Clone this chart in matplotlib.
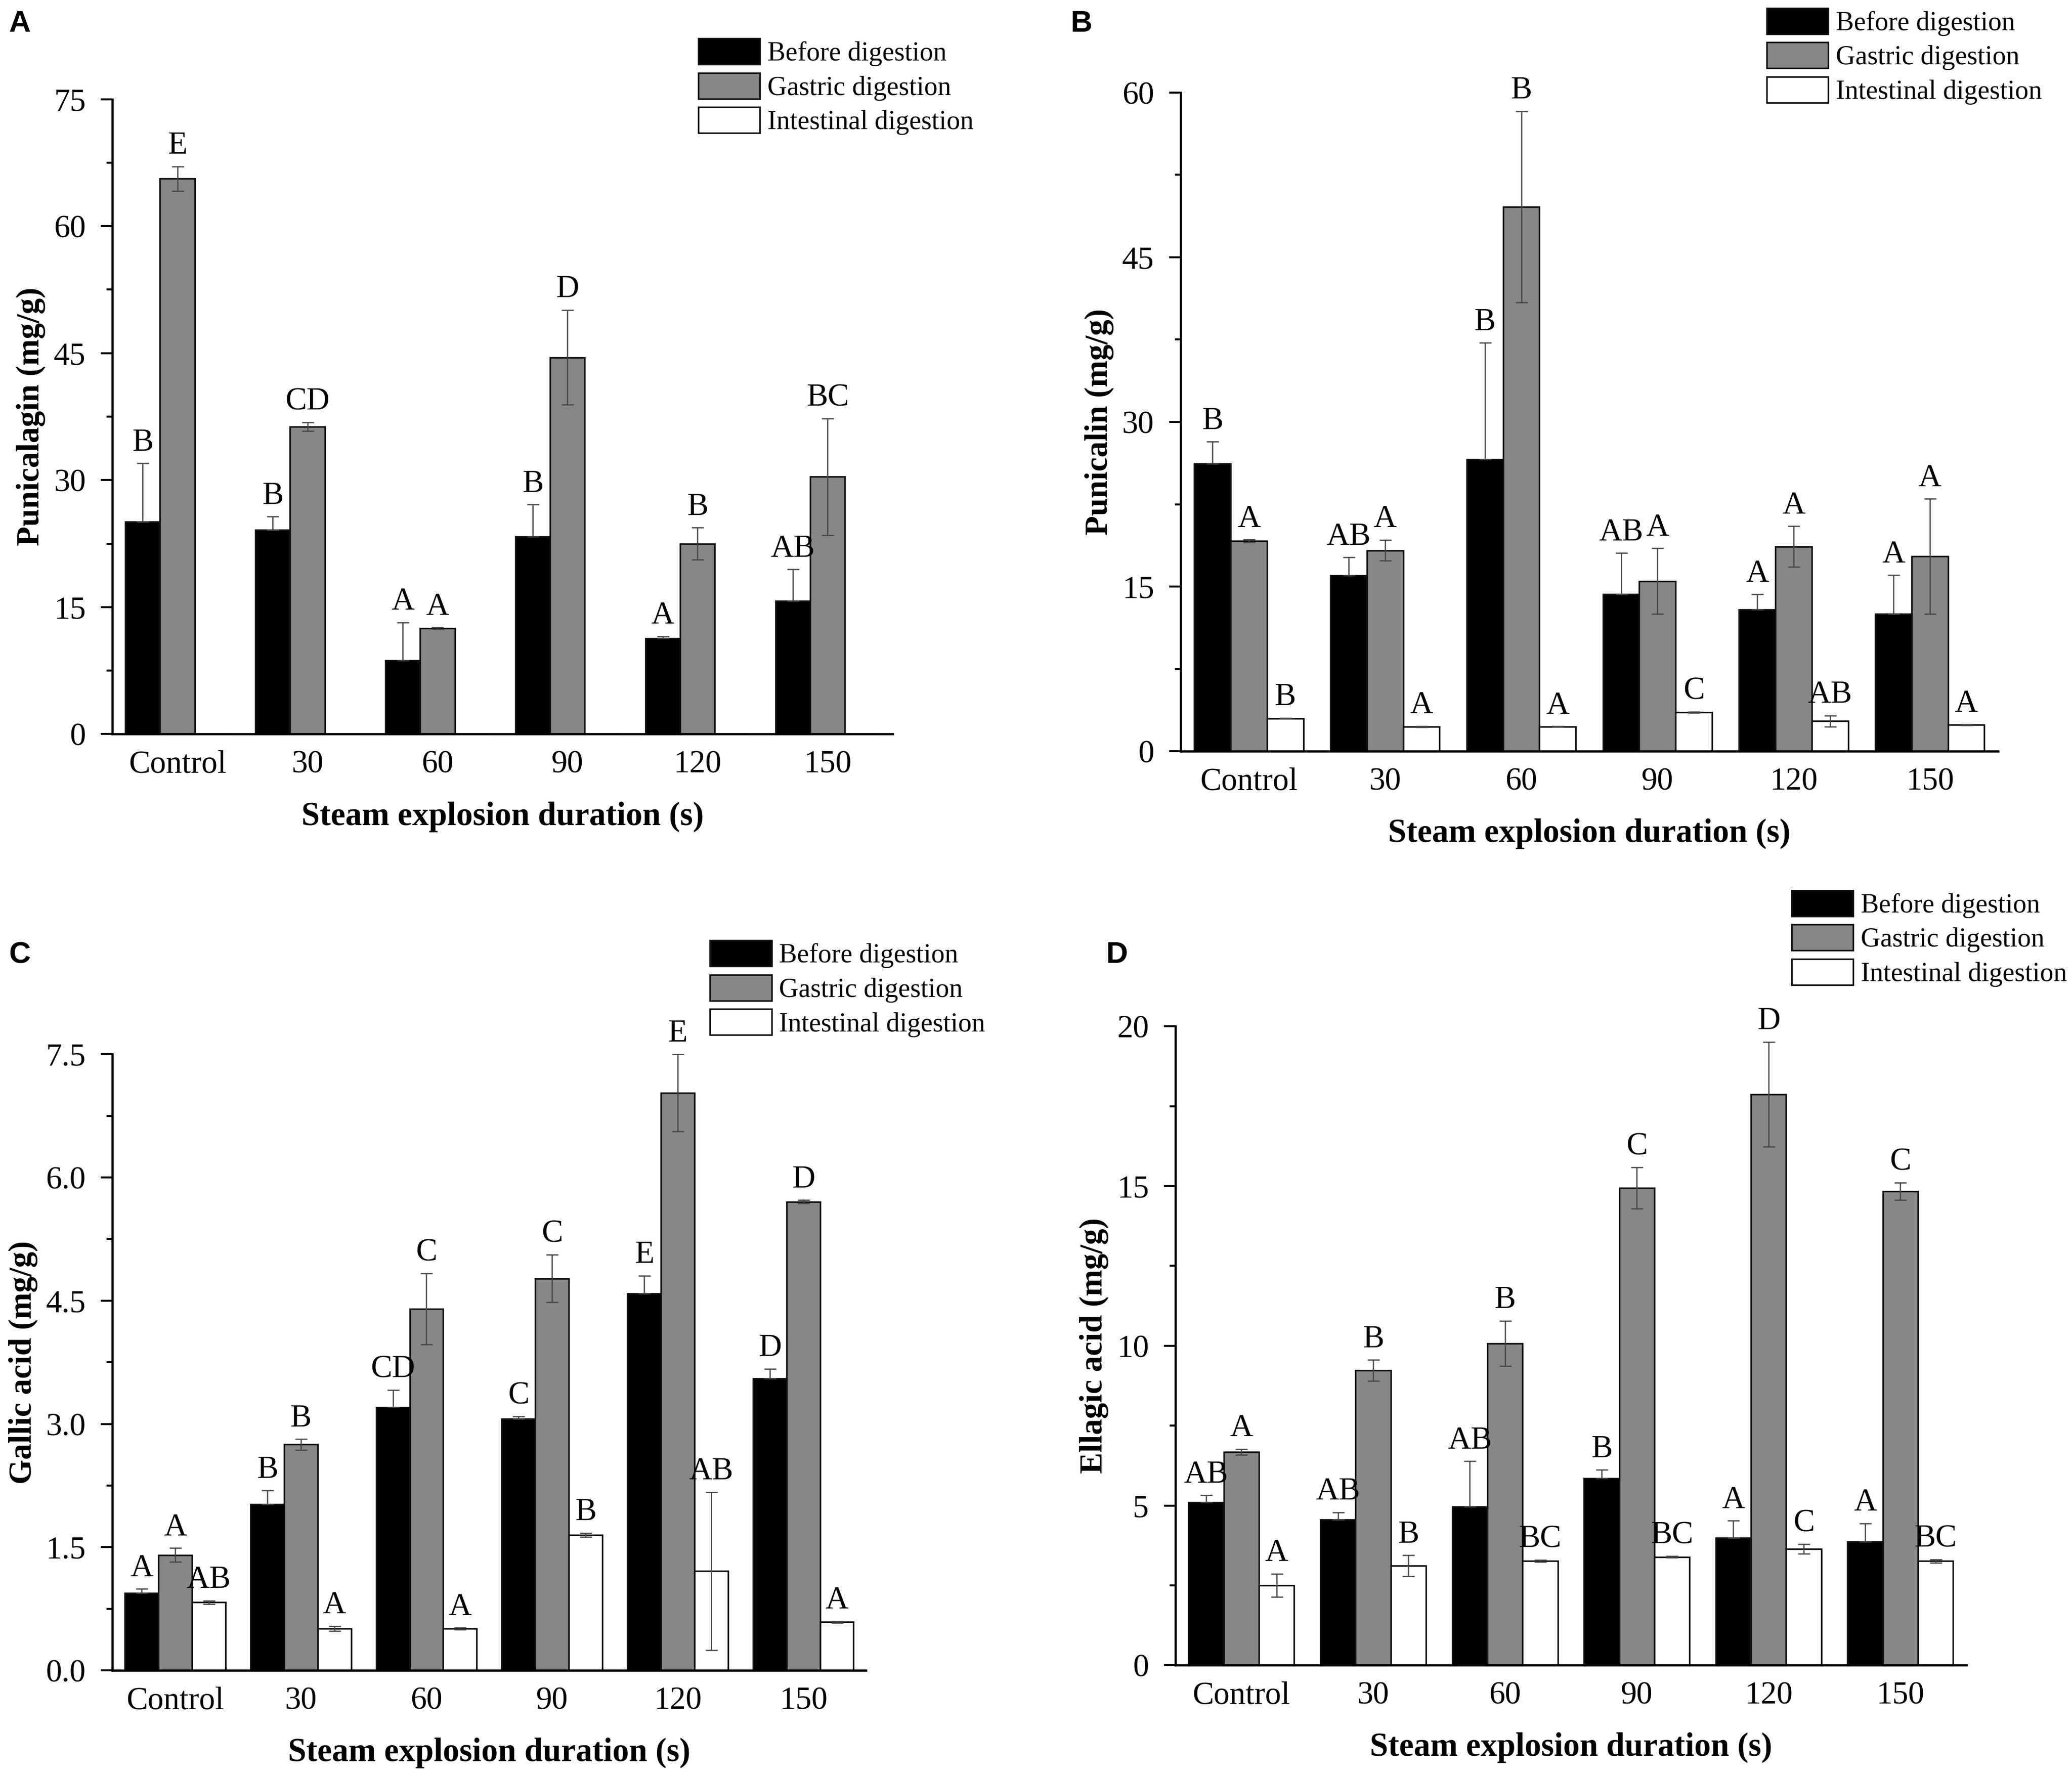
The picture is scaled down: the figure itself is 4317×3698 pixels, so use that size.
import numpy as np
import matplotlib
matplotlib.use("Agg")
import matplotlib.pyplot as plt
from matplotlib.ticker import MultipleLocator

plt.rcParams['font.family'] = ['Liberation Serif', 'DejaVu Serif']

categories = ["Control", "30", "60", "90", "120", "150"]
series_names = ["Before digestion", "Gastric digestion", "Intestinal digestion"]
xlabel = "Steam explosion duration (s)"

# Panel A: Punicalagin
a_before = [25.1, 24.1, 8.7, 23.3, 11.3, 15.75]
a_before_err = [6.9, 1.6, 4.5, 3.8, 0.25, 3.7]
a_gastric = [65.6, 36.3, 12.5, 44.5, 22.5, 30.4]
a_gastric_err = [1.45, 0.5, 0.1, 5.6, 1.9, 6.9]
a_intest = [0, 0, 0, 0, 0, 0]
a_intest_err = [0, 0, 0, 0, 0, 0]
a_lab_before = ["B", "B", "A", "B", "A", "AB"]
a_lab_gastric = ["E", "CD", "A", "D", "B", "BC"]
a_lab_intest = ["", "", "", "", "", ""]

# Panel B: Punicalin
b_before = [26.2, 16.0, 26.6, 14.3, 12.9, 12.5]
b_before_err = [2.0, 1.65, 10.6, 3.75, 1.4, 3.55]
b_gastric = [19.15, 18.3, 49.6, 15.5, 18.65, 17.75]
b_gastric_err = [0.12, 0.95, 8.7, 3.0, 1.85, 5.25]
b_intest = [3.0, 2.25, 2.25, 3.55, 2.75, 2.4]
b_intest_err = [0.03, 0.05, 0.03, 0.05, 0.5, 0.05]
b_lab_before = ["B", "AB", "B", "AB", "A", "A"]
b_lab_gastric = ["A", "A", "B", "A", "A", "A"]
b_lab_intest = ["B", "A", "A", "C", "AB", "A"]

# Panel C: Gallic acid
c_before = [0.944, 2.02, 3.2, 3.06, 4.585, 3.555]
c_before_err = [0.05, 0.17, 0.21, 0.03, 0.22, 0.115]
c_gastric = [1.405, 2.75, 4.4, 4.77, 7.03, 5.705]
c_gastric_err = [0.085, 0.065, 0.43, 0.29, 0.47, 0.02]
c_intest = [0.83, 0.51, 0.51, 1.65, 1.21, 0.59]
c_intest_err = [0.02, 0.03, 0.01, 0.025, 0.96, 0.01]
c_lab_before = ["A", "B", "CD", "C", "E", "D"]
c_lab_gastric = ["A", "B", "C", "C", "E", "D"]
c_lab_intest = ["AB", "A", "A", "B", "AB", "A"]

# Panel D: Ellagic acid
d_before = [5.1, 4.55, 4.97, 5.85, 3.99, 3.86]
d_before_err = [0.22, 0.24, 1.42, 0.27, 0.53, 0.58]
d_gastric = [6.68, 9.23, 10.07, 14.94, 17.87, 14.83]
d_gastric_err = [0.09, 0.33, 0.71, 0.64, 1.64, 0.27]
d_intest = [2.5, 3.11, 3.26, 3.39, 3.64, 3.26]
d_intest_err = [0.36, 0.33, 0.03, 0.02, 0.15, 0.05]
d_lab_before = ["AB", "AB", "AB", "B", "A", "A"]
d_lab_gastric = ["A", "B", "B", "C", "D", "C"]
d_lab_intest = ["A", "B", "BC", "BC", "C", "BC"]

colors = ["#000000", "#878787", "#ffffff"]

W, H = 4317, 3698
DPI = 300
fig = plt.figure(figsize=(W / DPI, H / DPI), dpi=DPI)

def frac(x0, y0, x1, y1):
    # reference display coords (1567 x 1342) -> figure fraction rect
    return [x0 / 1567, 1 - y1 / 1342, (x1 - x0) / 1567, (y1 - y0) / 1342]

panels = [
    dict(rect=frac(85, 75, 675, 555), ylim=75, step=15, fmt="{:.0f}", ylabel="Punicalagin (mg/g)",
         data=[(a_before, a_before_err, a_lab_before), (a_gastric, a_gastric_err, a_lab_gastric),
               (a_intest, a_intest_err, a_lab_intest)],
         leg=(528 / 1567, 1 - 29 / 1342), letter="A", lpos=(15, 18)),
    dict(rect=frac(893, 70, 1511, 568), ylim=60, step=15, fmt="{:.0f}", ylabel="Punicalin (mg/g)",
         data=[(b_before, b_before_err, b_lab_before), (b_gastric, b_gastric_err, b_lab_gastric),
               (b_intest, b_intest_err, b_lab_intest)],
         leg=(1336 / 1567, 1 - 6 / 1342), letter="B", lpos=(818, 18)),
    dict(rect=frac(85, 797, 655, 1263), ylim=7.5, step=1.5, fmt="{:.1f}", ylabel="Gallic acid (mg/g)",
         data=[(c_before, c_before_err, c_lab_before), (c_gastric, c_gastric_err, c_lab_gastric),
               (c_intest, c_intest_err, c_lab_intest)],
         leg=(537 / 1567, 1 - 711 / 1342), letter="C", lpos=(15, 722)),
    dict(rect=frac(889, 776, 1487, 1259), ylim=20, step=5, fmt="{:.0f}", ylabel="Ellagic acid (mg/g)",
         data=[(d_before, d_before_err, d_lab_before), (d_gastric, d_gastric_err, d_lab_gastric),
               (d_intest, d_intest_err, d_lab_intest)],
         leg=(1355 / 1567, 1 - 673 / 1342), letter="D", lpos=(845, 722)),
]

x = np.arange(len(categories))
bw = 0.267

for p in panels:
    ax = fig.add_axes(p["rect"])
    handles = []
    for i, (vals, errs, labs) in enumerate(p["data"]):
        pos = x + (i - 1) * bw
        bars = ax.bar(pos, vals, width=bw, color=colors[i], edgecolor="#111111", linewidth=0.8,
                      label=series_names[i], zorder=2)
        handles.append(bars)
        for xi, v, e, lab in zip(pos, vals, errs, labs):
            if v > 0:
                lower = 0 if i == 0 else e  # lower half hidden inside black bars
                ax.errorbar(xi, v, yerr=[[lower], [e]], fmt="none", ecolor="#444444",
                            elinewidth=0.6, capsize=3, capthick=0.6, zorder=3)
            if lab:
                ax.annotate(lab, (xi, v + e), xytext=(0, 3), textcoords="offset points",
                            ha="center", va="bottom", fontsize=16)
    ax.set_xlim(-0.5, 5.5)
    ax.set_ylim(0, p["ylim"])
    ticks = np.arange(0, p["ylim"] + p["step"] / 2, p["step"])
    ax.yaxis.set_minor_locator(MultipleLocator(p["step"] / 2))
    ax.set_yticks(ticks)
    ax.set_yticklabels([p["fmt"].format(v) for v in ticks])
    ax.set_xticks(x)
    ax.set_xticklabels(categories)
    ax.tick_params(axis="x", length=0, labelsize=16, pad=8)
    ax.tick_params(axis="y", which="major", direction="out", length=5.8, width=1.0, labelsize=16, pad=7.5)
    ax.tick_params(axis="y", which="minor", direction="out", length=3, width=1.0)
    for s in ["top", "right"]:
        ax.spines[s].set_visible(False)
    for s in ["left", "bottom"]:
        ax.spines[s].set_linewidth(1.1)
    ax.set_xlabel(xlabel, fontsize=16.5, fontweight="bold", labelpad=11)
    ax.set_ylabel(p["ylabel"], fontsize=16, fontweight="bold", labelpad=4)
    fig.legend(handles=handles, labels=series_names, loc="upper left", bbox_to_anchor=p["leg"],
               bbox_transform=fig.transFigure, frameon=False, fontsize=13.5, handlelength=2.28,
               handleheight=1.1, labelspacing=0.24, handletextpad=0.28, borderpad=0, borderaxespad=0)
    lx, ly = p["lpos"]
    fig.text(lx / 1567, 1 - ly / 1342, p["letter"], family="Liberation Sans", fontweight="bold",
             fontsize=15, ha="center", va="center")

fig.savefig("out.png", dpi=DPI)
